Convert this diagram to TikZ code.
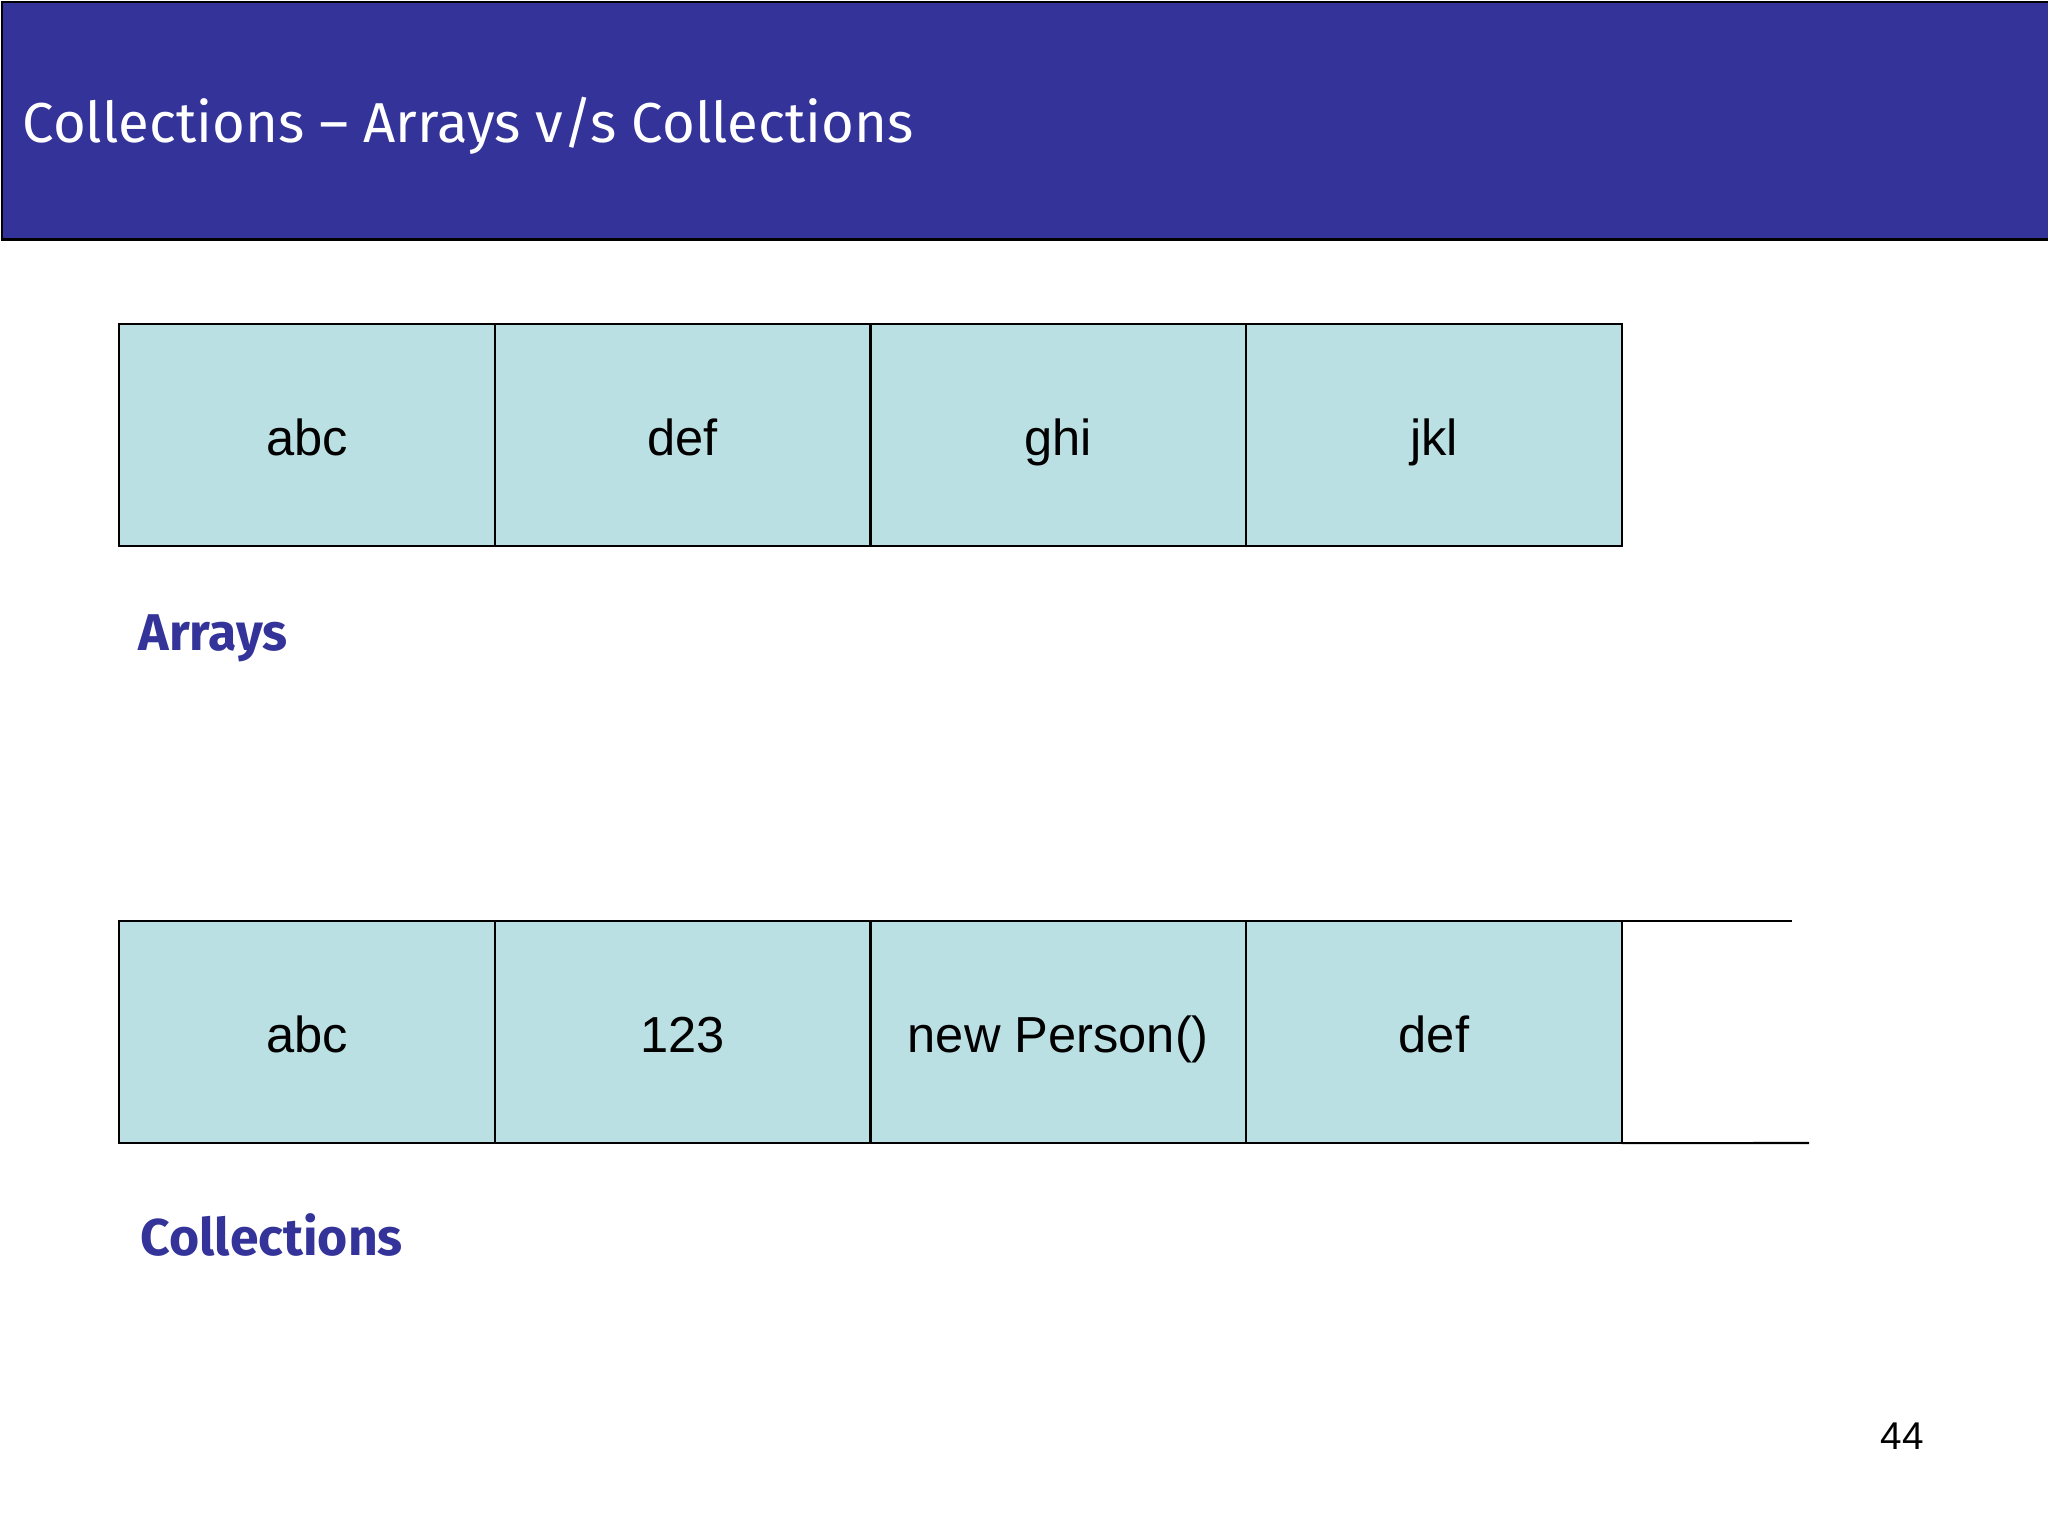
\documentclass[tikz,border=0pt]{standalone}
\usepackage{fontspec}
\setmainfont{Liberation Sans}
\newfontfamily\slidefont{Fira Sans}
\usetikzlibrary{positioning}
\definecolor{slideblue}{RGB}{51,51,153}
\definecolor{cellcyan}{RGB}{187,224,227}

\begin{document}
\begin{tikzpicture}[x=0.01cm,y=-0.01cm,node distance=0pt,
  cell/.style={draw,fill=cellcyan,line width=0.6pt,minimum width=3.755cm,
    minimum height=2.22cm,inner sep=0pt,outer sep=0pt,text height=0.4cm,
    text depth=0pt,font=\fontsize{14.4}{17}\selectfont},
  caption/.style={anchor=base west,inner sep=0pt,text=slideblue,
    font=\slidefont\bfseries\fontsize{14.7}{17}\selectfont}]
  \useasboundingbox (0,0) rectangle (2048,1536);

  % title bar
  \node[draw,fill=slideblue,line width=0.7pt,minimum width=20.46cm,
    minimum height=2.37cm,inner sep=0pt,anchor=north west] (bar) at (1,1) {};
  \node[anchor=base west,inner sep=0pt,text=white,
    font=\slidefont\fontsize{16}{19}\selectfont] (title) at (22,142)
    {Collections – Arrays v/s Collections};

  % arrays
  \node[cell,anchor=north west] (a1) at (119,324) {abc};
  \node[cell] (a2) [right=of a1] {def};
  \node[cell] (a3) [right=of a2] {ghi};
  \node[cell] (a4) [right=of a3] {jkl};
  \node[caption] (arr) at (138,650) {Arrays};

  % collections
  \node[cell,anchor=north west] (c1) at (119,921) {abc};
  \node[cell] (c2) [right=of c1] {123};
  \node[cell] (c3) [right=of c2] {new Person()};
  \node[cell] (c4) [right=of c3] {def};
  \coordinate (ctop) at (1792,921);
  \coordinate (cbot) at (1809,1143);
  \draw[line width=0.6pt] (c4.north east) -- (ctop);
  \draw[line width=0.6pt] (c4.south east) -- (cbot);
  \node[caption] (coll) at (140,1255) {Collections};

  \node[anchor=base,inner sep=0pt,font=\fontsize{11}{13}\selectfont] (page)
    at (1902,1449) {44};
\end{tikzpicture}
\end{document}
